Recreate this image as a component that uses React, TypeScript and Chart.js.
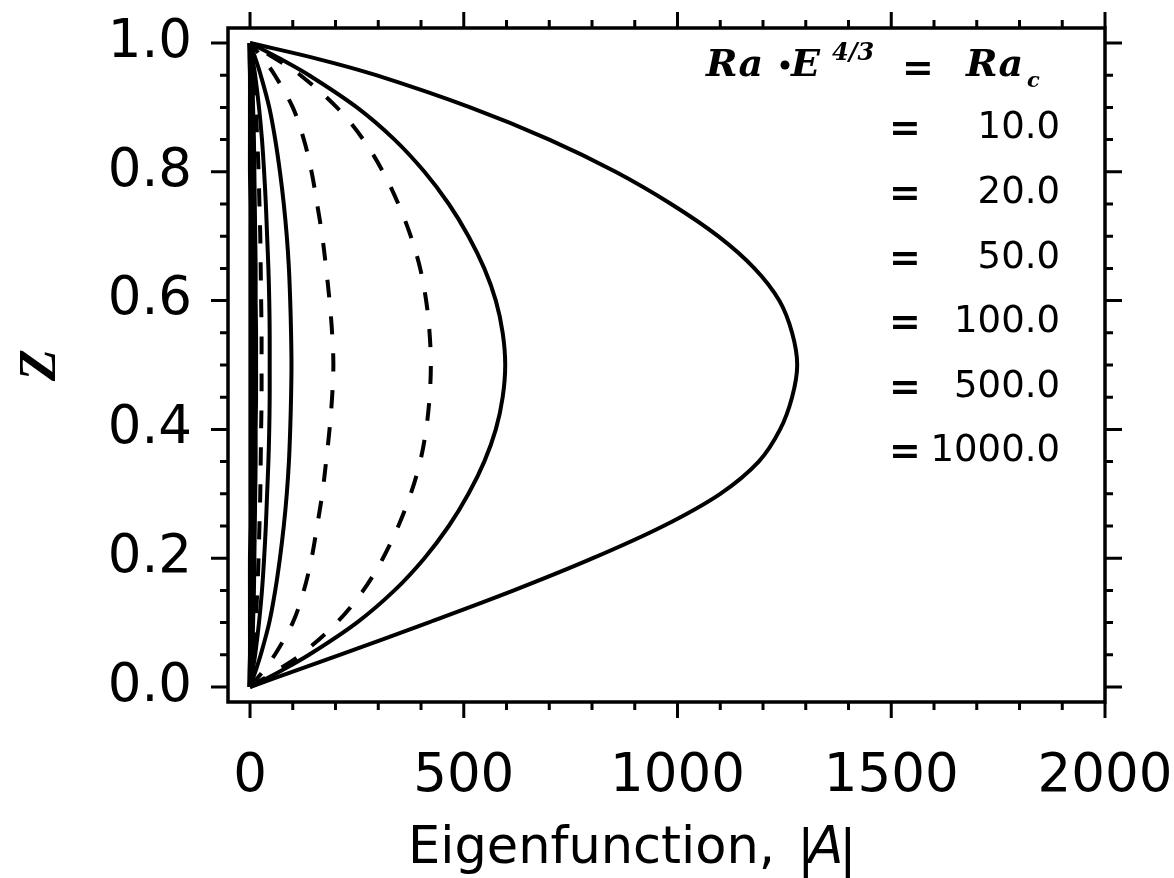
import { useEffect, useRef } from 'react';
import { Chart, registerables } from 'chart.js';

Chart.register(...registerables);

// ---- data ----
const zLevels = [0, 0.025, 0.05, 0.1, 0.15, 0.2, 0.25, 0.3, 0.35, 0.4, 0.45, 0.5, 0.55, 0.6, 0.65, 0.7, 0.75, 0.8, 0.85, 0.9, 0.95, 0.975, 1];

const eigen1280 = [0, 105, 210, 417, 617, 802, 967, 1100, 1190, 1240, 1268, 1280, 1268, 1238, 1180, 1095, 985, 855, 700, 515, 295, 160, 0];
const eigen600 = [0, 72, 138, 250, 338, 408, 465, 511, 548, 575, 591, 597, 591, 575, 548, 511, 465, 408, 338, 250, 138, 72, 0];
const eigen423 = [0, 61, 118, 203, 265, 311, 347, 376, 398, 412, 420, 423, 420, 412, 398, 376, 347, 311, 265, 203, 118, 61, 0];
const eigen195 = [0, 31, 58, 100, 126, 144, 157, 169, 178, 186, 192, 195, 192, 186, 178, 169, 157, 144, 126, 100, 58, 31, 0];
const eigen97 = [0, 13, 25, 45, 59, 70, 79, 86, 91, 94, 96, 97, 96, 94, 91, 86, 79, 70, 59, 45, 25, 13, 0];
const eigen46 = [0, 6, 12, 21, 28, 33, 37, 40, 43, 45, 46, 46, 46, 45, 43, 40, 37, 33, 28, 21, 12, 6, 0];
const eigen27 = [0, 4, 7, 13, 17, 20, 22, 24, 25, 26, 27, 27, 27, 26, 25, 24, 22, 20, 17, 13, 7, 4, 0];
const eigen13 = [0, 2, 4, 6, 8, 9, 10, 11, 12, 12, 13, 13, 13, 12, 12, 11, 10, 9, 8, 6, 4, 2, 0];
const eigen6 = [0, 1, 2, 3, 4, 4, 5, 5, 5, 6, 6, 6, 6, 6, 5, 5, 5, 4, 4, 3, 2, 1, 0];
const eigen2 = [0, 0, 1, 1, 1, 1, 2, 2, 2, 2, 2, 2, 2, 2, 2, 2, 2, 1, 1, 1, 1, 0, 0];

const xMajorTicks = [0, 500, 1000, 1500, 2000];
const xTickLabels = ['0', '500', '1000', '1500', '2000'];
const yMajorTicks = [0, 0.2, 0.4, 0.6, 0.8, 1.0];
const yTickLabels = ['0.0', '0.2', '0.4', '0.6', '0.8', '1.0'];
const xMinorStep = 100;
const yMinorStep = 0.05;

const legendValues = ['10.0', '20.0', '50.0', '100.0', '500.0', '1000.0'];

const xTitle = 'Eigenfunction,';
const xTitleSymbol = 'A';
const yTitle = 'Z';

type Series = { values: number[]; dashed: boolean; width: number };
const seriesList: Series[] = [
  { values: eigen2, dashed: false, width: 5 },
  { values: eigen6, dashed: false, width: 5 },
  { values: eigen13, dashed: false, width: 5 },
  { values: eigen27, dashed: true, width: 4 },
  { values: eigen46, dashed: false, width: 4 },
  { values: eigen97, dashed: false, width: 4 },
  { values: eigen195, dashed: true, width: 4 },
  { values: eigen423, dashed: true, width: 4 },
  { values: eigen600, dashed: false, width: 4 },
  { values: eigen1280, dashed: false, width: 4 },
];

const decorPlugin = {
  id: 'decor',
  afterDraw(chart: any) {
    const { ctx, chartArea } = chart;
    const xs = chart.scales.x;
    const ys = chart.scales.y;
    const { left, right, top, bottom } = chartArea;
    ctx.save();
    ctx.strokeStyle = '#000';
    ctx.fillStyle = '#000';
    ctx.lineCap = 'butt';

    // frame
    ctx.lineWidth = 3.5;
    ctx.strokeRect(left, top, right - left, bottom - top);

    // ticks
    ctx.lineWidth = 3;
    const xMax = xMajorTicks[xMajorTicks.length - 1];
    for (let i = 0; i * xMinorStep <= xMax + 1e-9; i++) {
      const v = i * xMinorStep;
      const major = xMajorTicks.some((m) => Math.abs(m - v) < 1e-6);
      const len = major ? 16 : 8;
      const px = xs.getPixelForValue(v);
      ctx.beginPath();
      ctx.moveTo(px, bottom);
      ctx.lineTo(px, bottom + len);
      ctx.moveTo(px, top);
      ctx.lineTo(px, top - len);
      ctx.stroke();
    }
    const yMax = yMajorTicks[yMajorTicks.length - 1];
    for (let i = 0; i * yMinorStep <= yMax + 1e-9; i++) {
      const v = i * yMinorStep;
      const major = yMajorTicks.some((m) => Math.abs(m - v) < 1e-6);
      const len = major ? 17 : 8;
      const py = ys.getPixelForValue(v);
      ctx.beginPath();
      ctx.moveTo(left, py);
      ctx.lineTo(left - len, py);
      ctx.moveTo(right, py);
      ctx.lineTo(right + len, py);
      ctx.stroke();
    }

    // legend header: Ra·E^{4/3} = Ra_c
    ctx.textBaseline = 'alphabetic';
    ctx.textAlign = 'left';
    ctx.font = 'italic bold 38px "DejaVu Serif"';
    ctx.fillText('Ra', 706, 76);
    ctx.beginPath();
    ctx.arc(785, 65, 4.5, 0, Math.PI * 2);
    ctx.fill();
    ctx.fillText('E', 791, 76);
    ctx.font = 'italic bold 24px "DejaVu Serif"';
    ctx.fillText('4/3', 832, 60);
    ctx.font = 'bold 38px "DejaVu Sans"';
    ctx.textAlign = 'center';
    ctx.fillText('=', 918, 80);
    ctx.textAlign = 'left';
    ctx.font = 'italic bold 38px "DejaVu Serif"';
    ctx.fillText('Ra', 966, 76);
    ctx.font = 'italic bold 21px "DejaVu Serif"';
    ctx.fillText('c', 1027, 87);

    // legend rows
    const rowY = [128, 193, 258, 322, 387, 451];
    legendValues.forEach((txt, i) => {
      ctx.textBaseline = 'middle';
      ctx.font = 'bold 38px "DejaVu Sans"';
      ctx.textAlign = 'center';
      ctx.fillText('=', 905, rowY[i] + 2);
      ctx.font = '37px "DejaVu Sans"';
      ctx.textAlign = 'right';
      ctx.fillText(txt, 1060, rowY[i]);
    });

    // x title
    ctx.textBaseline = 'alphabetic';
    ctx.textAlign = 'left';
    ctx.font = '51px "DejaVu Sans"';
    let tx = 408;
    ctx.fillText(xTitle, tx, 863);
    tx += ctx.measureText(xTitle + ' ').width + 6;
    ctx.fillText('|', tx, 866);
    tx += ctx.measureText('|').width - 6;
    ctx.font = 'italic 51px "DejaVu Sans"';
    ctx.fillText(xTitleSymbol, tx, 863);
    tx += ctx.measureText(xTitleSymbol).width - 4;
    ctx.font = '51px "DejaVu Sans"';
    ctx.fillText('|', tx, 866);

    // y title
    ctx.save();
    ctx.translate(42, 365);
    ctx.rotate(-Math.PI / 2);
    ctx.textAlign = 'center';
    ctx.textBaseline = 'middle';
    ctx.font = 'italic bold 52px "Liberation Serif"';
    ctx.fillText(yTitle, 0, 0);
    ctx.restore();

    ctx.restore();
  },
};

const zeroPadding = (scale: any) => {
  scale.paddingLeft = 0;
  scale.paddingRight = 0;
  scale.paddingTop = 0;
  scale.paddingBottom = 0;
};

export default function App() {
  const canvasRef = useRef<HTMLCanvasElement | null>(null);

  useEffect(() => {
    const canvas = canvasRef.current;
    if (!canvas) return;
    const datasets = seriesList.map((s) => ({
      data: zLevels.map((z, i) => ({ x: s.values[i], y: z })),
      showLine: true,
      borderColor: '#000',
      backgroundColor: '#000',
      borderWidth: s.width,
      borderDash: s.dashed ? [18, 19] : [],
      pointRadius: 0,
      tension: 0.35,
      fill: false,
    }));

    const chart = new Chart(canvas, {
      type: 'scatter',
      data: { datasets },
      options: {
        animation: false,
        responsive: false,
        devicePixelRatio: 1,
        layout: { padding: { left: 8, top: 28, right: 69, bottom: 0 } },
        plugins: {
          legend: { display: false },
          tooltip: { enabled: false },
          title: { display: false },
        },
        scales: {
          x: {
            type: 'linear',
            min: -51.5,
            max: 2000,
            afterBuildTicks: (scale: any) => {
              scale.ticks = xMajorTicks.map((v) => ({ value: v }));
            },
            afterFit: (scale: any) => {
              scale.height = 176;
              zeroPadding(scale);
            },
            ticks: {
              autoSkip: false,
              maxRotation: 0,
              minRotation: 0,
              padding: 43,
              color: '#000',
              font: { family: 'DejaVu Sans', size: 53 },
              callback: (v: any) => {
                const idx = xMajorTicks.indexOf(Number(v));
                return idx >= 0 ? xTickLabels[idx] : '';
              },
            },
            grid: { display: false, drawTicks: false },
            border: { display: false },
          },
          y: {
            type: 'linear',
            min: -0.0233,
            max: 1.0233,
            afterBuildTicks: (scale: any) => {
              scale.ticks = yMajorTicks.map((v) => ({ value: v }));
            },
            afterFit: (scale: any) => {
              scale.width = 220;
              zeroPadding(scale);
            },
            ticks: {
              autoSkip: false,
              padding: 36,
              color: '#000',
              font: { family: 'DejaVu Sans', size: 53 },
              callback: (v: any) => {
                const idx = yMajorTicks.findIndex((m) => Math.abs(m - Number(v)) < 1e-6);
                return idx >= 0 ? yTickLabels[idx] : '';
              },
            },
            grid: { display: false, drawTicks: false },
            border: { display: false },
          },
        },
      },
      plugins: [decorPlugin],
    });
    return () => chart.destroy();
  }, []);

  return (
    <div style={{ position: 'fixed', left: 0, top: 0, width: 1174, height: 878, background: '#fff' }}>
      <canvas ref={canvasRef} width={1174} height={878} style={{ width: 1174, height: 878, display: 'block' }} />
    </div>
  );
}
